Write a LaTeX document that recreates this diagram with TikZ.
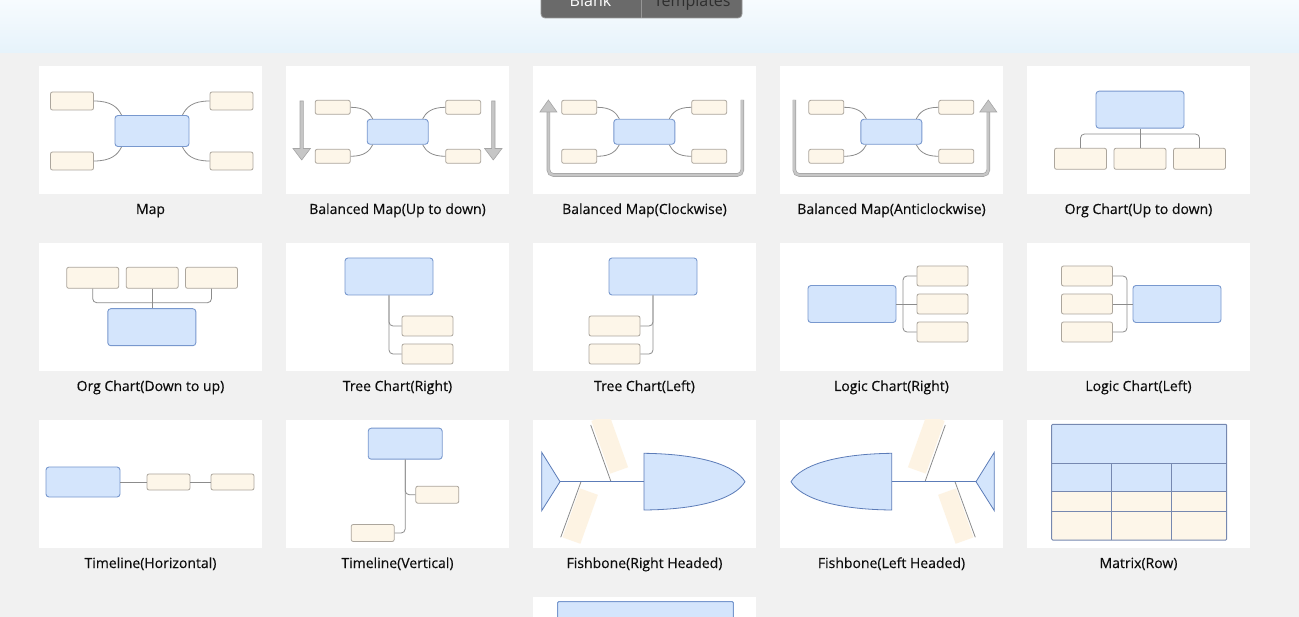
\documentclass[tikz,border=0pt]{standalone}
\usepackage{fontspec}
\setmainfont{Open Sans}
\newfontfamily\captionfont{Open Sans}[FakeBold=0.35]
\usetikzlibrary{positioning}
\definecolor{pagebg}{RGB}{241,241,241}
\definecolor{headtop}{RGB}{247,251,254}
\definecolor{headbottom}{RGB}{230,243,251}
\definecolor{btnfill}{RGB}{106,106,106}
\definecolor{btnborder}{RGB}{150,150,150}
\definecolor{topicbg}{RGB}{212,229,252}
\definecolor{topicborder}{RGB}{120,152,206}
\definecolor{subbg}{RGB}{253,246,233}
\definecolor{subborder}{RGB}{172,166,157}
\definecolor{linkgray}{RGB}{140,140,140}
\definecolor{arrowbg}{RGB}{198,198,198}
\definecolor{arrowborder}{RGB}{165,165,165}
\definecolor{fishborder}{RGB}{92,124,184}
\definecolor{bonebg}{RGB}{253,243,227}
\definecolor{gridline}{RGB}{118,136,176}
\tikzset{%
  downflow/.pic={%
    \filldraw [draw=arrowborder, fill=arrowbg, line width=0.6pt]
    (-1.7,0) -- (-1.7,47.5) -- (-8.7,47.5) -- (0,59) -- (8.7,47.5) -- (1.7,47.5) -- (1.7,0) -- cycle;
  },
  upflowhead/.pic={%
    \filldraw [draw=arrowborder, fill=arrowbg, line width=0.6pt] (-8.5,12) -- (0,0) -- (8.5,12) -- cycle;
  },
}

\begin{document}
\begin{tikzpicture}
    [x=1pt, y=-1pt,
    card/.style={fill=white},
    topic/.style={rectangle, draw=topicborder, fill=topicbg, rounded corners=3pt, line width=0.9pt,
    inner sep=0pt},
    subtopic/.style={rectangle, draw=subborder, fill=subbg, rounded corners=2pt, line width=0.8pt,
    inner sep=0pt},
    link/.style={draw=linkgray, line width=0.8pt},
    elbow/.style={link, rounded corners=4pt},
    uturn/.style={draw=arrowborder, double=arrowbg, double distance=2.2pt, line width=0.7pt,
    rounded corners=5pt},
    fish/.style={draw=fishborder, fill=topicbg, line width=0.8pt},
    bone/.style={rectangle, fill=bonebg, inner sep=0pt, minimum width=19pt},
    gridrule/.style={draw=gridline, line width=1pt},
    btn/.style={anchor=base, font=\fontsize{16}{18}\selectfont},
    caption/.style={anchor=base, text=black!95, font=\captionfont\fontsize{14}{16}\selectfont}]
    \useasboundingbox (0,0) rectangle (1299,617);
    \clip (0,0) rectangle (1299,617);

    % header and page
    \shade [top color=headtop, bottom color=headbottom] (0,0) rectangle (1299,53);
    \fill [pagebg] (0,53) rectangle (1299,617);
    \draw [btnborder, fill=btnfill, rounded corners=4pt, line width=0.8pt] (541,-10) rectangle (742,18);
    \draw [btnborder, line width=0.6pt] (641.5,-10) -- (641.5,18);
    \node [btn, text=white] (blank) at (590.5,6.5) {Blank};
    \node [btn, text=black!82] (templates) at (692.2,6.5) {Templates};

    % cards
    \foreach \cx in {39,286,533,780,1027}
      \foreach \cy in {66,243,420}
        \fill [card] (\cx,\cy) rectangle ++(223,128);
    \fill [card] (533,597) rectangle ++(223,40);

    \foreach \cx/\cy/\txt/\nm in {150.5/214/{Map}/map, 397.5/214/{Balanced Map(Up to down)}/bmud,
      644.5/214/{Balanced Map(Clockwise)}/bmcw, 891.5/214/{Balanced Map(Anticlockwise)}/bmacw,
      1138.5/214/{Org Chart(Up to down)}/ocud, 150.5/391/{Org Chart(Down to up)}/ocdu,
      397.5/391/{Tree Chart(Right)}/tcr, 644.5/391/{Tree Chart(Left)}/tcl,
      891.5/391/{Logic Chart(Right)}/lcr, 1138.5/391/{Logic Chart(Left)}/lcl,
      150.5/568/{Timeline(Horizontal)}/tlh, 397.5/568/{Timeline(Vertical)}/tlv,
      644.5/568/{Fishbone(Right Headed)}/fbr, 891.5/568/{Fishbone(Left Headed)}/fbl,
      1138.5/568/{Matrix(Row)}/mxr}
      \node [caption] (cap-\nm) at (\cx,\cy) {\txt};

    % Map
    \node [topic, minimum width=74pt, minimum height=31pt] (map-root) at (152,131) {};
    \node [subtopic, minimum width=43pt, minimum height=18pt] (map-lt) at (72,101) {};
    \node [subtopic, minimum width=43pt, minimum height=18pt] (map-lb) at (72,161) {};
    \node [subtopic, minimum width=43pt, minimum height=18pt] (map-rt) at (231.5,101) {};
    \node [subtopic, minimum width=43pt, minimum height=18pt] (map-rb) at (231.5,161) {};
    \draw [link] (map-lt.east) .. controls +(17,0) and +(-4,-8) .. ([xshift=7pt]map-root.north west);
    \draw [link] (map-lb.east) .. controls +(17,0) and +(-4,8) .. ([xshift=7pt]map-root.south west);
    \draw [link] (map-rt.west) .. controls +(-17,0) and +(4,-8) .. ([xshift=-7pt]map-root.north east);
    \draw [link] (map-rb.west) .. controls +(-17,0) and +(4,8) .. ([xshift=-7pt]map-root.south east);

    % Balanced Map, up to down
    \node [topic, minimum width=61pt, minimum height=25pt] (bmud-root) at (397.7,131.8) {};
    \node [subtopic, minimum width=35pt, minimum height=14pt] (bmud-lt) at (332.7,107.3) {};
    \node [subtopic, minimum width=35pt, minimum height=14pt] (bmud-lb) at (332.7,156.3) {};
    \node [subtopic, minimum width=35pt, minimum height=14pt] (bmud-rt) at (463.2,107.3) {};
    \node [subtopic, minimum width=35pt, minimum height=14pt] (bmud-rb) at (463.2,156.3) {};
    \draw [link] (bmud-lt.east) .. controls +(14,0) and +(-3,-6) .. ([xshift=6pt]bmud-root.north west);
    \draw [link] (bmud-lb.east) .. controls +(14,0) and +(-3,6) .. ([xshift=6pt]bmud-root.south west);
    \draw [link] (bmud-rt.west) .. controls +(-14,0) and +(3,-6) .. ([xshift=-6pt]bmud-root.north east);
    \draw [link] (bmud-rb.west) .. controls +(-14,0) and +(3,6) .. ([xshift=-6pt]bmud-root.south east);
    \pic at (301.7,101) {downflow};
    \pic at (493.3,101) {downflow};

    % Balanced Map, clockwise
    \node [topic, minimum width=61pt, minimum height=25pt] (bmcw-root) at (644.3,131.8) {};
    \node [subtopic, minimum width=35pt, minimum height=14pt] (bmcw-lt) at (579.2,107.3) {};
    \node [subtopic, minimum width=35pt, minimum height=14pt] (bmcw-lb) at (579.2,156.3) {};
    \node [subtopic, minimum width=35pt, minimum height=14pt] (bmcw-rt) at (709.2,107.3) {};
    \node [subtopic, minimum width=35pt, minimum height=14pt] (bmcw-rb) at (709.2,156.3) {};
    \draw [link] (bmcw-lt.east) .. controls +(14,0) and +(-3,-6) .. ([xshift=6pt]bmcw-root.north west);
    \draw [link] (bmcw-lb.east) .. controls +(14,0) and +(-3,6) .. ([xshift=6pt]bmcw-root.south west);
    \draw [link] (bmcw-rt.west) .. controls +(-14,0) and +(3,-6) .. ([xshift=-6pt]bmcw-root.north east);
    \draw [link] (bmcw-rb.west) .. controls +(-14,0) and +(3,6) .. ([xshift=-6pt]bmcw-root.south east);
    \draw [uturn] (742.3,100) -- (742.3,175) -- (548.4,175) -- (548.4,111);
    \pic at (548.4,100) {upflowhead};

    % Balanced Map, anticlockwise
    \node [topic, minimum width=61pt, minimum height=25pt] (bmacw-root) at (891.3,131.8) {};
    \node [subtopic, minimum width=35pt, minimum height=14pt] (bmacw-lt) at (826.3,107.3) {};
    \node [subtopic, minimum width=35pt, minimum height=14pt] (bmacw-lb) at (826.3,156.3) {};
    \node [subtopic, minimum width=35pt, minimum height=14pt] (bmacw-rt) at (956.3,107.3) {};
    \node [subtopic, minimum width=35pt, minimum height=14pt] (bmacw-rb) at (956.3,156.3) {};
    \draw [link] (bmacw-lt.east) .. controls +(14,0) and +(-3,-6) .. ([xshift=6pt]bmacw-root.north west);
    \draw [link] (bmacw-lb.east) .. controls +(14,0) and +(-3,6) .. ([xshift=6pt]bmacw-root.south west);
    \draw [link] (bmacw-rt.west) .. controls +(-14,0) and +(3,-6) .. ([xshift=-6pt]bmacw-root.north east);
    \draw [link] (bmacw-rb.west) .. controls +(-14,0) and +(3,6) .. ([xshift=-6pt]bmacw-root.south east);
    \draw [uturn] (794.3,100) -- (794.3,175) -- (988.3,175) -- (988.3,111);
    \pic at (988.3,100) {upflowhead};

    % Org Chart, up to down
    \node [topic, minimum width=88pt, minimum height=37pt] (ocud-root) at (1140,109.7) {};
    \node [subtopic, minimum width=52pt, minimum height=21pt] (ocud-a) at (1080.5,158.8) {};
    \node [subtopic, minimum width=52pt, minimum height=21pt] (ocud-b) at (1140,158.8) {};
    \node [subtopic, minimum width=52pt, minimum height=21pt] (ocud-c) at (1199.5,158.8) {};
    \coordinate (ocud-bar) at (1140,134);
    \draw [link] (ocud-root.south) -- (ocud-b.north);
    \draw [elbow] (ocud-a.north) |- (ocud-bar) -| (ocud-c.north);

    % Org Chart, down to up
    \node [topic, minimum width=88pt, minimum height=37pt] (ocdu-root) at (151.8,327.2) {};
    \node [subtopic, minimum width=52pt, minimum height=21pt] (ocdu-a) at (92.7,277.8) {};
    \node [subtopic, minimum width=52pt, minimum height=21pt] (ocdu-b) at (152.2,277.8) {};
    \node [subtopic, minimum width=52pt, minimum height=21pt] (ocdu-c) at (211.5,277.8) {};
    \coordinate (ocdu-bar) at (152.2,302.7);
    \draw [link] (ocdu-b.south) -- (ocdu-b.south |- ocdu-root.north);
    \draw [elbow] (ocdu-a.south) |- (ocdu-bar) -| (ocdu-c.south);

    % Tree Chart, right
    \node [topic, minimum width=88pt, minimum height=37pt] (tcr-root) at (389,276.5) {};
    \node [subtopic, minimum width=51pt, minimum height=20pt] (tcr-a) at (427.5,326) {};
    \node [subtopic, minimum width=51pt, minimum height=20pt] (tcr-b) at (427.5,354) {};
    \draw [elbow] (tcr-root.south) |- (tcr-a.west);
    \draw [elbow] (tcr-root.south) |- (tcr-b.west);

    % Tree Chart, left
    \node [topic, minimum width=88pt, minimum height=37pt] (tcl-root) at (653,276.5) {};
    \node [subtopic, minimum width=51pt, minimum height=20pt] (tcl-a) at (614.5,326) {};
    \node [subtopic, minimum width=51pt, minimum height=20pt] (tcl-b) at (614.5,354) {};
    \draw [elbow] (tcl-root.south) |- (tcl-a.east);
    \draw [elbow] (tcl-root.south) |- (tcl-b.east);

    % Logic Chart, right
    \node [topic, minimum width=88pt, minimum height=37pt] (lcr-root) at (852,304) {};
    \node [subtopic, minimum width=51pt, minimum height=20pt] (lcr-a) at (942.5,276) {};
    \node [subtopic, minimum width=51pt, minimum height=20pt] (lcr-b) at (942.5,304) {};
    \node [subtopic, minimum width=51pt, minimum height=20pt] (lcr-c) at (942.5,332) {};
    \coordinate (lcr-joint) at (903,304);
    \draw [link] (lcr-root.east) -- (lcr-b.west);
    \draw [elbow] (lcr-a.west) -| (lcr-joint) |- (lcr-c.west);

    % Logic Chart, left
    \node [topic, minimum width=88pt, minimum height=37pt] (lcl-root) at (1177,304) {};
    \node [subtopic, minimum width=51pt, minimum height=20pt] (lcl-a) at (1087,276) {};
    \node [subtopic, minimum width=51pt, minimum height=20pt] (lcl-b) at (1087,304) {};
    \node [subtopic, minimum width=51pt, minimum height=20pt] (lcl-c) at (1087,332) {};
    \coordinate (lcl-joint) at (1127,304);
    \draw [link] (lcl-root.west) -- (lcl-b.east);
    \draw [elbow] (lcl-a.east) -| (lcl-joint) |- (lcl-c.east);

    % Timeline, horizontal
    \node [topic, minimum width=74pt, minimum height=30pt] (tlh-root) at (83,482) {};
    \node [subtopic, minimum width=43pt, minimum height=16pt] (tlh-a) at (168.5,482) {};
    \node [subtopic, minimum width=43pt, minimum height=16pt] (tlh-b) at (232.5,482) {};
    \draw [link] (tlh-root) -- (tlh-a);
    \draw [link] (tlh-a) -- (tlh-b);

    % Timeline, vertical
    \node [topic, minimum width=74pt, minimum height=31pt] (tlv-root) at (405.2,443.7) {};
    \node [subtopic, minimum width=43pt, minimum height=17pt] (tlv-a) at (437.3,494.7) {};
    \node [subtopic, minimum width=43pt, minimum height=17pt] (tlv-b) at (372.7,533) {};
    \draw [elbow] (tlv-root.south) |- (tlv-a.west);
    \draw [elbow] (tlv-root.south) |- (tlv-b.east);

    % Fishbone, right headed
    \begin{scope}
      \clip (533,420) rectangle ++(223,128);
      \node [bone, minimum height=56pt, rotate=19.7] (fbr-up) at (609.7,444.1) {};
      \node [bone, minimum height=52pt, rotate=-19.7] (fbr-down) at (580.2,516.1) {};
      \draw [link] (611,481.7) -- (590.7,425);
      \draw [link] (581,481.7) -- (560.7,537.3);
    \end{scope}
    \draw [fish] (560,481.7) -- (644,481.7);
    \filldraw [fish] (541.7,452.3) -- (560,481.7) -- (541.7,510.7) -- cycle;
    \filldraw [fish] (644,453.3) .. controls (700,454) and (735,465) .. (745,481.7)
    .. controls (735,498.5) and (700,509.5) .. (644,510) -- cycle;

    % Fishbone, left headed
    \begin{scope}
      \clip (780,420) rectangle ++(223,128);
      \node [bone, minimum height=56pt, rotate=-19.7] (fbl-up) at (926.3,444.1) {};
      \node [bone, minimum height=52pt, rotate=19.7] (fbl-down) at (955.8,516.1) {};
      \draw [link] (925,481.7) -- (945.3,425);
      \draw [link] (955,481.7) -- (975.3,537.3);
    \end{scope}
    \draw [fish] (891.7,481.7) -- (976,481.7);
    \filldraw [fish] (994.3,452.3) -- (976,481.7) -- (994.3,510.7) -- cycle;
    \filldraw [fish] (891.7,453.3) .. controls (836,454) and (801,465) .. (791,481.7)
    .. controls (801,498.5) and (836,509.5) .. (891.7,510) -- cycle;

    % Matrix, row
    \fill [topicbg] (1051.7,424.3) rectangle (1226.7,491.7);
    \fill [subbg] (1051.7,491.7) rectangle (1226.7,540);
    \draw [gridrule, rounded corners=1pt] (1051.7,424.3) rectangle (1226.7,540);
    \foreach \ry in {463.3,491.7,511}
      \draw [gridrule] (1051.7,\ry) -- (1226.7,\ry);
    \foreach \rx in {1111.7,1171.7}
      \draw [gridrule] (\rx,463.3) -- (\rx,540);

    % next card, partly shown
    \draw [gridrule, fill=topicbg, draw=topicborder, rounded corners=1pt] (557.7,601.7) rectangle (733.3,660);
\end{tikzpicture}
\end{document}
